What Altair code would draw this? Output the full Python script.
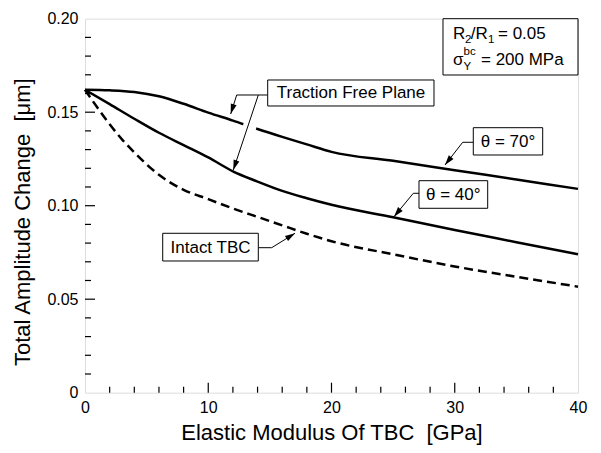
import math
import altair as alt
import pandas as pd

# ---------------- data ----------------
E_solid = [0, 2, 4, 6, 8, 10, 12, 14, 16, 18, 20, 25, 30, 35, 40]
theta70 = [0.162, 0.1617, 0.1608, 0.1585, 0.1545, 0.1498, 0.1455, 0.1410,
           0.1368, 0.1328, 0.1288, 0.1240, 0.1190, 0.1140, 0.1090]
theta40 = [0.162, 0.1543, 0.1465, 0.1390, 0.1324, 0.1258, 0.1184, 0.1129,
           0.1079, 0.1040, 0.1005, 0.0938, 0.0870, 0.0805, 0.0740]
E_intact = [0, 1, 2, 3, 4, 6, 8, 10, 12, 14, 16, 18, 20, 25, 30, 35, 40]
intact = [0.162, 0.1525, 0.1435, 0.1355, 0.1285, 0.1165, 0.1085, 0.1035,
          0.0985, 0.0940, 0.0895, 0.0850, 0.0810, 0.0740, 0.0675, 0.0620, 0.0567]

x_labels = [0, 10, 20, 30, 40]
y_labels = [0, 0.05, 0.10, 0.15, 0.20]
minor_x = [2, 4, 6, 8, 12, 14, 16, 18, 22, 24, 26, 28, 32, 34, 36, 38]
major_x = [10, 20, 30]
minor_y = [0.01, 0.02, 0.03, 0.04, 0.06, 0.07, 0.08, 0.09,
           0.11, 0.12, 0.13, 0.14, 0.16, 0.17, 0.18, 0.19]
major_y = [0.05, 0.10, 0.15]

# ---------------- layout ----------------
W, H = 493, 374
PL, PT = 85, 18.7
XMAX, YMAX = 40, 0.2
FONT = "Liberation Sans"


def ex(px):
    return (px - PL) / W * XMAX


def ey(py):
    return (PT + H - py) / H * YMAX


xs = alt.Scale(domain=[0, XMAX], nice=False, zero=False)
ys = alt.Scale(domain=[0, YMAX], nice=False, zero=False)

x_axis = alt.Axis(values=x_labels, format="d", title="Elastic Modulus Of TBC\u00a0 [GPa]",
                  labelFontSize=16, titleFontSize=22, titleFontWeight="normal",
                  ticks=False, domain=False, grid=False, labelPadding=7,
                  labelFlush=False, labelOverlap=False, labelColor="black",
                  titleColor="black", titleY=47.3, titleBaseline="alphabetic")
y_axis = alt.Axis(values=y_labels,
                  labelExpr="datum.value == 0 ? '0' : format(datum.value, '.2f')",
                  title="Total Amplitude Change\u00a0 [\u03bcm]",
                  labelFontSize=16, titleFontSize=22, titleFontWeight="normal",
                  ticks=False, domain=False, grid=False, labelPadding=7,
                  labelFlush=False, labelOverlap=False, labelColor="black",
                  titleColor="black", titleX=-63, titleY=203,
                  titleAngle=270, titleAlign="center", titleBaseline="middle")

df_solid = pd.DataFrame({
    "E": E_solid + E_solid,
    "v": theta70 + theta40,
    "s": ["70"] * len(E_solid) + ["40"] * len(E_solid),
})
solid = alt.Chart(df_solid).mark_line(color="black", strokeWidth=2.5, interpolate="monotone").encode(
    x=alt.X("E:Q", scale=xs, axis=x_axis),
    y=alt.Y("v:Q", scale=ys, axis=y_axis),
    detail="s:N",
)
dashed = alt.Chart(pd.DataFrame({"E": E_intact, "v": intact})).mark_line(
    color="black", strokeWidth=2.5, strokeDash=[9, 5], interpolate="monotone").encode(
    x=alt.X("E:Q", scale=xs), y=alt.Y("v:Q", scale=ys))


# inward ticks
def xticks(vals, ln):
    return alt.Chart(pd.DataFrame({"E": vals})).mark_rule(color="black", strokeWidth=1.2).encode(
        x=alt.X("E:Q", scale=xs), y=alt.value(H), y2=alt.value(H - ln))


def yticks(vals, ln):
    return alt.Chart(pd.DataFrame({"v": vals})).mark_rule(color="black", strokeWidth=1.2).encode(
        y=alt.Y("v:Q", scale=ys), x=alt.value(0), x2=alt.value(ln))


ticks = [xticks(minor_x, 6), xticks(major_x, 10), yticks(minor_y, 6), yticks(major_y, 10)]

# white break in the theta=70 line where the leader crosses
gap = alt.Chart(pd.DataFrame({"x": [ex(243.5)], "y": [ey(123.5)], "x2": [ex(256.5)], "y2": [ey(127.0)]})).mark_rule(
    color="white", strokeWidth=7, strokeCap="butt").encode(
    x=alt.X("x:Q", scale=xs), y=alt.Y("y:Q", scale=ys), x2="x2:Q", y2="y2:Q")

# leader lines (pixel estimates -> data coords)
segs = [
    ((267.7, 95), (236.7, 95)), ((236.7, 95), (230.7, 114)),
    ((258.3, 95), (233.3, 170)),
    ((473.3, 142.3), (462.7, 142.3)), ((462.7, 142.3), (445, 165)),
    ((419, 193.3), (413.3, 193.3)), ((413.3, 193.3), (394, 216.7)),
    ((258.3, 247.7), (271.7, 247.7)), ((271.7, 247.7), (295, 233.3)),
]
df_seg = pd.DataFrame({
    "x": [ex(a[0]) for a, b in segs], "y": [ey(a[1]) for a, b in segs],
    "x2": [ex(b[0]) for a, b in segs], "y2": [ey(b[1]) for a, b in segs],
})
leaders = alt.Chart(df_seg).mark_rule(color="black", strokeWidth=1).encode(
    x=alt.X("x:Q", scale=xs), y=alt.Y("y:Q", scale=ys), x2="x2:Q", y2="y2:Q")

ARROW = "M0,0L-0.3,1L0.3,1Z"
arrows = []
for (t0, t1) in [((236.7, 95), (230.7, 114)), ((258.3, 95), (233.3, 170)),
                 ((462.7, 142.3), (445, 165)), ((413.3, 193.3), (394, 216.7)),
                 ((271.7, 247.7), (295, 233.3))]:
    dx, dy = t1[0] - t0[0], t1[1] - t0[1]
    ang = math.degrees(math.atan2(dx, -dy)) % 360
    arrows.append(alt.Chart(pd.DataFrame({"x": [ex(t1[0])], "y": [ey(t1[1])]})).mark_point(
        shape=ARROW, size=400, filled=True, color="black", opacity=1, angle=ang).encode(
        x=alt.X("x:Q", scale=xs), y=alt.Y("y:Q", scale=ys)))

# boxes
boxes_px = [
    (267.7, 80, 434, 106),
    (473.3, 127.7, 542.7, 155),
    (419, 180.7, 487.7, 208.3),
    (162.7, 233.3, 258.3, 261),
    (443, PT, PL + W, 75),
]
df_box = pd.DataFrame({
    "x": [ex(b[0]) for b in boxes_px], "y": [ey(b[1]) for b in boxes_px],
    "x2": [ex(b[2]) for b in boxes_px], "y2": [ey(b[3]) for b in boxes_px],
})
boxes = alt.Chart(df_box).mark_rect(fill="white", stroke="black", strokeWidth=1).encode(
    x=alt.X("x:Q", scale=xs), y=alt.Y("y:Q", scale=ys), x2="x2:Q", y2="y2:Q")


def texts(items, size, align, baseline):
    df = pd.DataFrame({"x": [ex(i[0]) for i in items], "y": [ey(i[1]) for i in items],
                       "t": [i[2] for i in items]})
    return alt.Chart(df).mark_text(fontSize=size, align=align, baseline=baseline,
                                   color="black", font=FONT).encode(
        x=alt.X("x:Q", scale=xs), y=alt.Y("y:Q", scale=ys), text="t:N")


labels = texts([
    (351, 93.5, "Traction Free Plane"),
    (508, 141.8, "\u03b8 = 70\u00b0"),
    (453.3, 195, "\u03b8 = 40\u00b0"),
    (210.5, 247.7, "Intact TBC"),
], 17, "center", "middle")

big = texts([
    (453, 39, "R"), (470.7, 39, "/R"), (498, 39, "= 0.05"),
    (453, 65, "\u03c3"), (481, 65, "= 200 MPa"),
], 17, "left", "alphabetic")
small = texts([
    (465, 43, "2"), (488, 43, "1"),
    (463.5, 70, "Y"),
], 11.5, "left", "alphabetic")
sup = texts([(463.5, 55, "bc")], 11.5, "left", "alphabetic")

chart = alt.layer(solid, dashed, *ticks, gap, leaders, *arrows, boxes, labels, big, small, sup).properties(
    width=W, height=H,
    autosize=alt.AutoSizeParams(type="none"),
    padding={"left": 77, "top": 10.7, "right": 15, "bottom": 52},
    background="white",
).configure_view(stroke="black", strokeWidth=2).configure(font=FONT)

chart.save("out.html", embed_options={"renderer": "svg", "actions": False})
